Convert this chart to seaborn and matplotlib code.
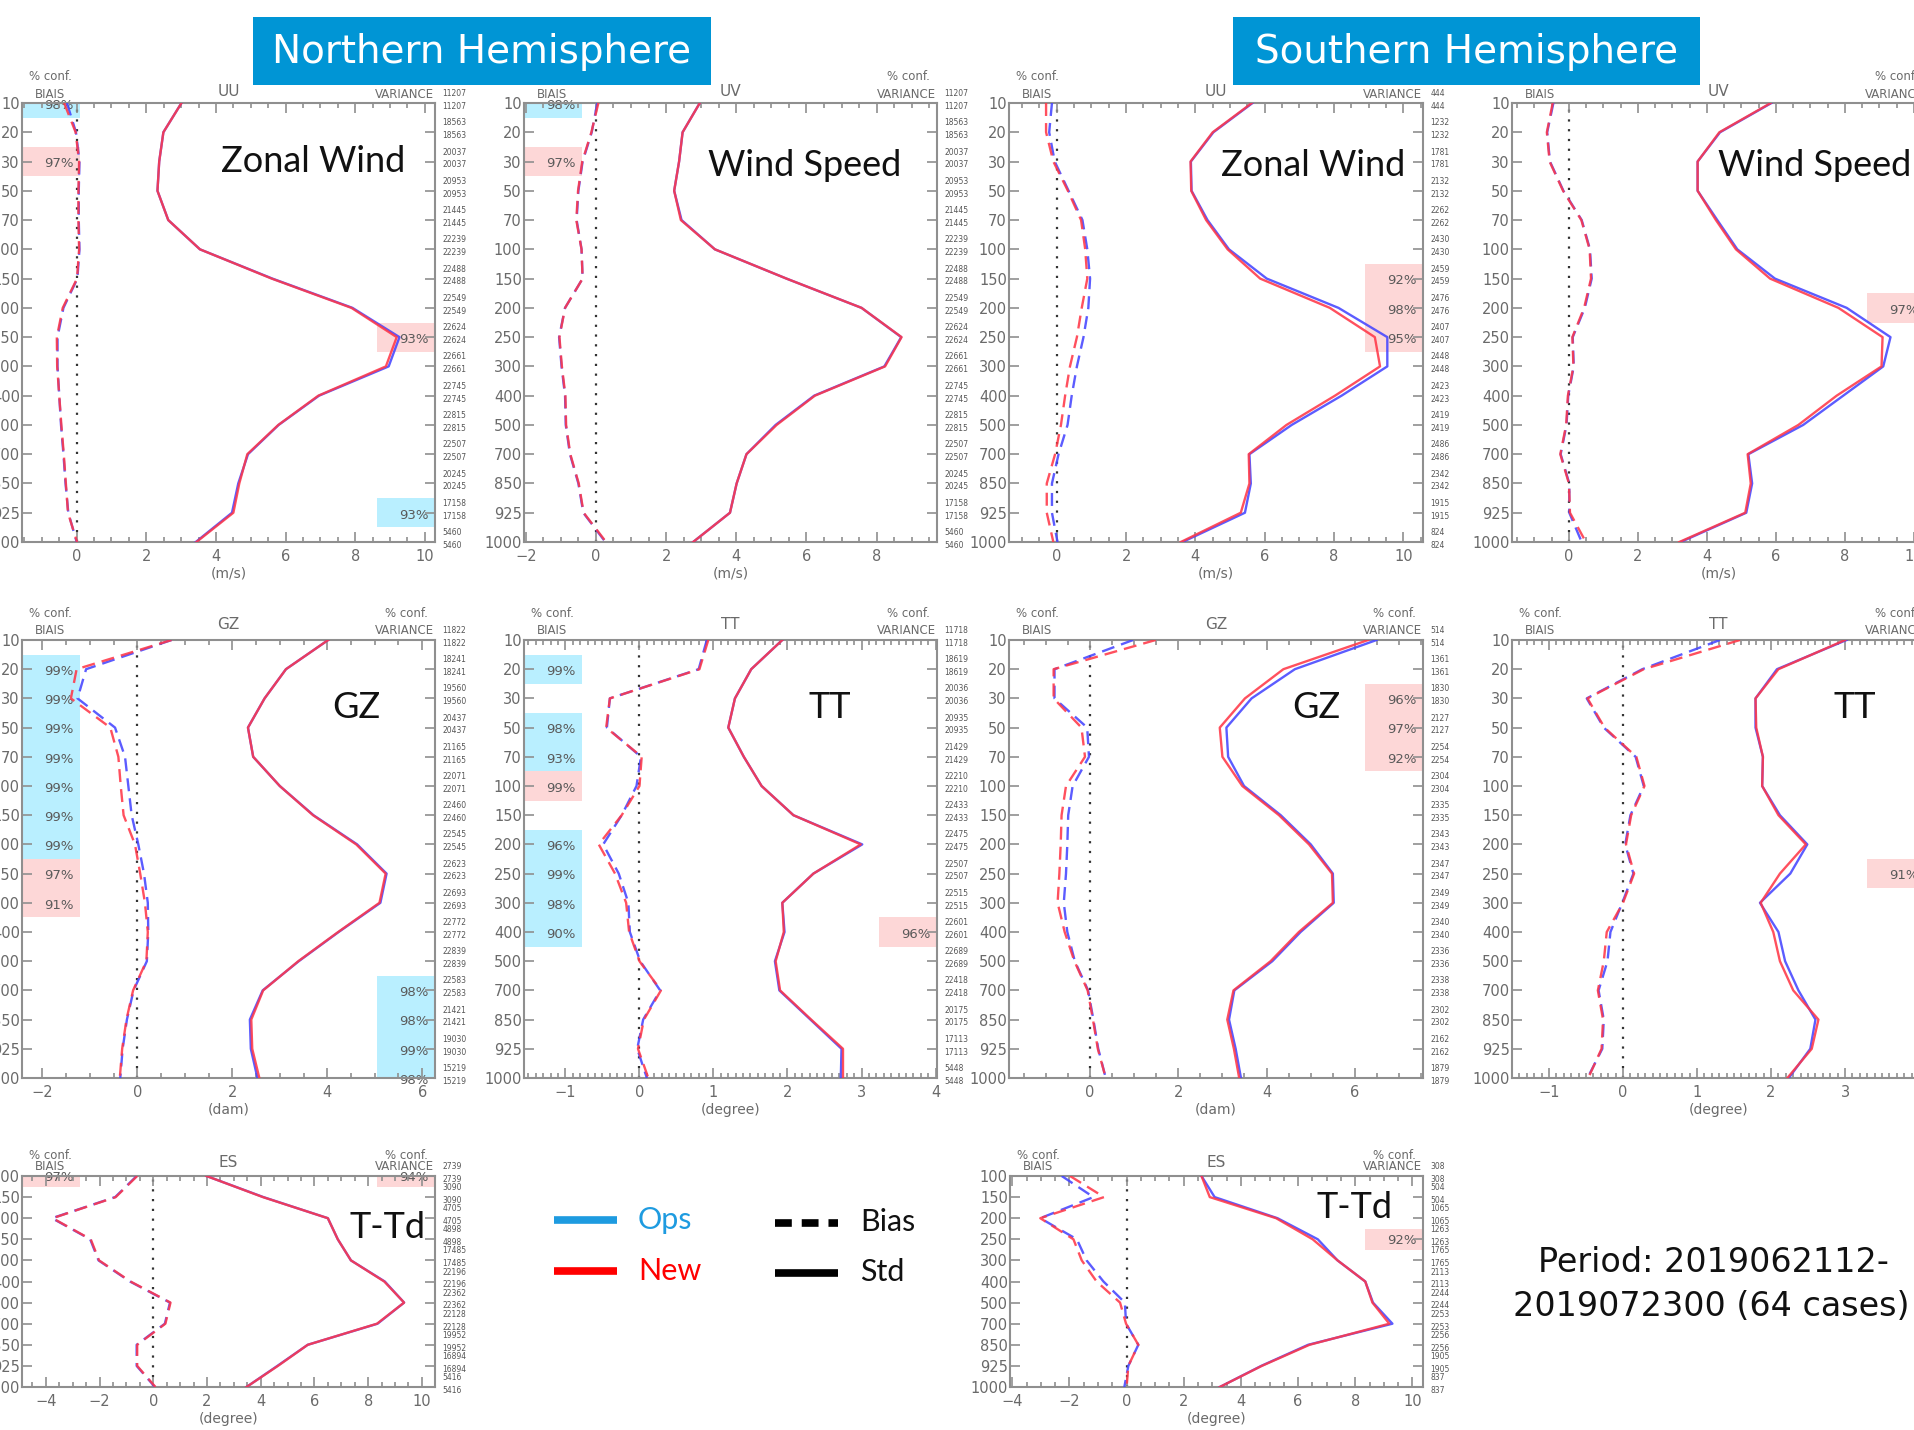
import numpy as np
import pandas as pd
import matplotlib
matplotlib.use("Agg")
import matplotlib.pyplot as plt
import seaborn as sns
from matplotlib.patches import Rectangle
from matplotlib.lines import Line2D
from matplotlib.ticker import MultipleLocator

W, H = 1915, 1430

# ---------------- data ----------------
LEVELS = ['10', '20', '30', '50', '70', '100', '150', '200', '250', '300',
          '400', '500', '700', '850', '925', '1000']
LEVELS_ES = ['100', '150', '200', '250', '300', '400', '500', '700', '850', '925', '1000']

# NH UU
nh_uu_std_ops = [3.01, 2.49, 2.37, 2.32, 2.63, 3.54, 5.62, 7.92, 9.27, 8.96, 6.96, 5.80, 4.92, 4.64, 4.46, 3.42]
nh_uu_std_new = [3.01, 2.49, 2.37, 2.32, 2.63, 3.54, 5.60, 7.89, 9.19, 8.88, 6.94, 5.79, 4.90, 4.67, 4.50, 3.44]
nh_uu_bias_ops = [-0.28, -0.02, 0.08, 0.06, 0.06, 0.08, 0.02, -0.38, -0.55, -0.55, -0.50, -0.45, -0.38, -0.32, -0.24, 0.00]
nh_uu_bias_new = [-0.36, -0.03, 0.07, 0.05, 0.05, 0.07, 0.01, -0.40, -0.57, -0.56, -0.50, -0.44, -0.37, -0.31, -0.25, 0.01]
nh_uu_counts = [11207, 18563, 20037, 20953, 21445, 22239, 22488, 22549, 22624, 22661, 22745, 22815, 22507, 20245, 17158, 5460]

# NH UV
nh_uv_std_ops = [2.96, 2.47, 2.37, 2.23, 2.44, 3.39, 5.43, 7.57, 8.70, 8.22, 6.22, 5.12, 4.29, 4.01, 3.82, 2.77]
nh_uv_std_new = [2.96, 2.47, 2.37, 2.23, 2.42, 3.39, 5.43, 7.57, 8.71, 8.24, 6.24, 5.15, 4.29, 4.01, 3.82, 2.77]
nh_uv_bias_ops = [0.04, -0.12, -0.38, -0.50, -0.55, -0.41, -0.38, -0.88, -1.05, -0.98, -0.88, -0.86, -0.74, -0.50, -0.36, 0.27]
nh_uv_bias_new = [0.07, -0.13, -0.39, -0.51, -0.56, -0.41, -0.38, -0.88, -1.04, -0.97, -0.87, -0.85, -0.73, -0.49, -0.35, 0.29]
nh_uv_counts = [11207, 18563, 20037, 20953, 21445, 22239, 22488, 22549, 22624, 22661, 22745, 22815, 22507, 20245, 17158, 5460]

# SH UU
sh_uu_std_ops = [5.65, 4.52, 3.87, 3.89, 4.35, 4.97, 6.06, 8.13, 9.54, 9.54, 8.22, 6.78, 5.56, 5.60, 5.43, 3.63]
sh_uu_std_new = [5.63, 4.50, 3.86, 3.88, 4.31, 4.93, 5.87, 7.88, 9.18, 9.33, 8.03, 6.63, 5.54, 5.56, 5.31, 3.58]
sh_uu_bias_ops = [-0.14, -0.22, -0.06, 0.34, 0.74, 0.88, 0.96, 0.91, 0.77, 0.58, 0.43, 0.31, 0.05, -0.14, -0.14, 0.02]
sh_uu_bias_new = [-0.31, -0.31, -0.10, 0.32, 0.70, 0.82, 0.88, 0.72, 0.58, 0.38, 0.24, 0.12, -0.05, -0.29, -0.29, -0.10]
sh_uu_counts = [444, 1232, 1781, 2132, 2262, 2430, 2459, 2476, 2407, 2448, 2423, 2419, 2486, 2342, 1915, 824]

# SH UV
sh_uv_std_ops = [5.87, 4.38, 3.73, 3.73, 4.30, 4.88, 5.97, 8.05, 9.32, 9.11, 7.95, 6.79, 5.20, 5.31, 5.14, 3.24]
sh_uv_std_new = [5.85, 4.36, 3.73, 3.73, 4.26, 4.84, 5.83, 7.81, 9.09, 9.06, 7.76, 6.65, 5.18, 5.27, 5.11, 3.20]
sh_uv_bias_ops = [-0.45, -0.63, -0.55, -0.16, 0.37, 0.61, 0.66, 0.46, 0.11, 0.14, -0.02, -0.07, -0.24, 0.01, 0.01, 0.37]
sh_uv_bias_new = [-0.47, -0.64, -0.56, -0.17, 0.36, 0.60, 0.64, 0.44, 0.10, 0.13, -0.03, -0.08, -0.25, 0.00, 0.03, 0.49]
sh_uv_counts = [444, 1232, 1781, 2132, 2262, 2430, 2459, 2476, 2407, 2448, 2423, 2419, 2486, 2342, 1915, 824]

# NH GZ
nh_gz_std_ops = [4.02, 3.13, 2.68, 2.33, 2.44, 3.00, 3.71, 4.63, 5.25, 5.12, 4.24, 3.40, 2.64, 2.37, 2.39, 2.53]
nh_gz_std_new = [4.02, 3.13, 2.68, 2.33, 2.44, 3.00, 3.70, 4.61, 5.23, 5.10, 4.23, 3.39, 2.65, 2.40, 2.42, 2.57]
nh_gz_bias_ops = [0.72, -1.08, -1.26, -0.47, -0.26, -0.19, -0.12, 0.02, 0.14, 0.22, 0.23, 0.20, -0.08, -0.22, -0.31, -0.36]
nh_gz_bias_new = [0.72, -1.28, -1.40, -0.57, -0.40, -0.35, -0.29, -0.05, 0.06, 0.16, 0.22, 0.19, -0.09, -0.23, -0.32, -0.37]
nh_gz_counts = [11822, 18241, 19560, 20437, 21165, 22071, 22460, 22545, 22623, 22693, 22772, 22839, 22583, 21421, 19030, 15219]

# NH TT
nh_tt_std_ops = [1.93, 1.51, 1.29, 1.20, 1.41, 1.65, 2.08, 3.01, 2.35, 1.93, 1.96, 1.83, 1.89, 2.31, 2.73, 2.72]
nh_tt_std_new = [1.93, 1.51, 1.29, 1.20, 1.41, 1.65, 2.08, 2.99, 2.35, 1.93, 1.95, 1.84, 1.90, 2.32, 2.75, 2.75]
nh_tt_bias_ops = [0.91, 0.80, -0.40, -0.44, 0.02, -0.04, -0.24, -0.49, -0.28, -0.15, -0.13, 0.01, 0.28, 0.05, -0.03, 0.10]
nh_tt_bias_new = [0.93, 0.81, -0.40, -0.45, 0.03, 0.00, -0.24, -0.55, -0.33, -0.18, -0.14, 0.00, 0.29, 0.06, -0.02, 0.12]
nh_tt_counts = [11718, 18619, 20036, 20935, 21429, 22210, 22433, 22475, 22507, 22515, 22601, 22689, 22418, 20175, 17113, 5448]

# SH GZ
sh_gz_std_ops = [6.49, 4.64, 3.66, 3.09, 3.13, 3.49, 4.32, 5.00, 5.50, 5.52, 4.77, 4.13, 3.27, 3.15, 3.30, 3.42]
sh_gz_std_new = [6.30, 4.38, 3.51, 2.94, 3.00, 3.45, 4.28, 4.96, 5.48, 5.50, 4.73, 4.09, 3.25, 3.11, 3.26, 3.38]
sh_gz_bias_ops = [0.98, -0.80, -0.80, -0.06, -0.02, -0.39, -0.49, -0.51, -0.54, -0.59, -0.51, -0.34, -0.04, 0.08, 0.19, 0.36]
sh_gz_bias_new = [1.49, -0.82, -0.82, -0.19, -0.11, -0.54, -0.64, -0.66, -0.69, -0.73, -0.57, -0.35, -0.05, 0.07, 0.18, 0.36]
sh_gz_counts = [514, 1361, 1830, 2127, 2254, 2304, 2335, 2343, 2347, 2349, 2340, 2336, 2338, 2302, 2162, 1879]

# SH TT
sh_tt_std_ops = [3.02, 2.08, 1.79, 1.79, 1.89, 1.88, 2.12, 2.49, 2.26, 1.85, 2.10, 2.19, 2.37, 2.60, 2.53, 2.24]
sh_tt_std_new = [3.00, 2.10, 1.79, 1.80, 1.89, 1.88, 2.10, 2.47, 2.12, 1.86, 2.03, 2.12, 2.30, 2.64, 2.55, 2.22]
sh_tt_bias_ops = [1.31, 0.26, -0.49, -0.26, 0.17, 0.28, 0.10, 0.03, 0.14, -0.01, -0.17, -0.21, -0.33, -0.26, -0.28, -0.48]
sh_tt_bias_new = [1.58, 0.28, -0.48, -0.25, 0.18, 0.29, 0.11, 0.04, 0.15, 0.00, -0.22, -0.26, -0.34, -0.27, -0.29, -0.47]
sh_tt_counts = [514, 1361, 1830, 2127, 2254, 2304, 2335, 2343, 2347, 2349, 2340, 2336, 2338, 2302, 2162, 1879]

# NH ES
nh_es_std_ops = [1.98, 4.10, 6.50, 6.87, 7.36, 8.62, 9.34, 8.35, 5.75, 4.62, 3.47]
nh_es_std_new = [1.98, 4.08, 6.50, 6.87, 7.36, 8.60, 9.34, 8.33, 5.75, 4.64, 3.47]
nh_es_bias_ops = [-0.62, -1.42, -3.77, -2.35, -2.04, -0.87, 0.62, 0.43, -0.62, -0.62, 0.06]
nh_es_bias_new = [-0.60, -1.40, -3.75, -2.33, -2.02, -0.85, 0.64, 0.45, -0.60, -0.60, 0.08]
nh_es_counts = [2739, 3090, 4705, 4898, 17485, 22196, 22362, 22128, 19952, 16894, 5416]

# SH ES
sh_es_std_ops = [2.62, 3.08, 5.28, 6.69, 7.38, 8.35, 8.62, 9.30, 6.35, 4.71, 3.26]
sh_es_std_new = [2.62, 2.91, 5.23, 6.51, 7.38, 8.35, 8.60, 9.19, 6.40, 4.73, 3.26]
sh_es_bias_ops = [-2.27, -1.16, -3.02, -1.74, -1.40, -0.81, -0.06, -0.02, 0.41, 0.06, -0.08]
sh_es_bias_new = [-1.98, -0.79, -3.02, -1.86, -1.57, -1.05, -0.23, -0.02, 0.41, 0.06, 0.00]
sh_es_counts = [308, 504, 1065, 1263, 1765, 2113, 2244, 2253, 2256, 1905, 837]

# significance (level, % confidence, who: 'c' = cyan, 'p' = pink)
nh_uu_sig_left = [('10', 98, 'c'), ('30', 97, 'p')]
nh_uu_sig_right = [('250', 93, 'p'), ('925', 93, 'c')]
nh_uv_sig_left = [('10', 98, 'c'), ('30', 97, 'p')]
nh_uv_sig_right = []
sh_uu_sig_left = []
sh_uu_sig_right = [('150', 92, 'p'), ('200', 98, 'p'), ('250', 95, 'p')]
sh_uv_sig_left = []
sh_uv_sig_right = [('200', 97, 'p')]
nh_gz_sig_left = [('20', 99, 'c'), ('30', 99, 'c'), ('50', 99, 'c'), ('70', 99, 'c'), ('100', 99, 'c'),
                  ('150', 99, 'c'), ('200', 99, 'c'), ('250', 97, 'p'), ('300', 91, 'p')]
nh_gz_sig_right = [('700', 98, 'c'), ('850', 98, 'c'), ('925', 99, 'c'), ('1000', 98, 'c')]
nh_tt_sig_left = [('20', 99, 'c'), ('50', 98, 'c'), ('70', 93, 'c'), ('100', 99, 'p'), ('200', 96, 'c'),
                  ('250', 99, 'c'), ('300', 98, 'c'), ('400', 90, 'c')]
nh_tt_sig_right = [('400', 96, 'p')]
sh_gz_sig_left = []
sh_gz_sig_right = [('30', 96, 'p'), ('50', 97, 'p'), ('70', 92, 'p')]
sh_tt_sig_left = []
sh_tt_sig_right = [('250', 91, 'p')]
nh_es_sig_left = [('100', 97, 'p')]
nh_es_sig_right = [('100', 94, 'p')]
sh_es_sig_left = []
sh_es_sig_right = [('250', 92, 'p')]

# ---------------- layout / style ----------------
C_OPS = '#4545ff'
C_NEW = '#ff3848'
SIG_COL = {'c': '#b9efff', 'p': '#fdd7d7'}
GRAY = '#6a6a6a'
SPINE = '#8f8f8f'

PANELS = [
    dict(lev=LEVELS, so=nh_uu_std_ops, sn=nh_uu_std_new, bo=nh_uu_bias_ops, bn=nh_uu_bias_new,
         cnt=nh_uu_counts, sl=nh_uu_sig_left, sr=nh_uu_sig_right, var='UU', name='Zonal Wind',
         unit='(m/s)', rect=(22, 103, 435, 542), xlim=(-1.57, 10.29), maj=2, mnr=0.5,
         confL=True, confR=False, row=1, name_xy=(313, 162)),
    dict(lev=LEVELS, so=nh_uv_std_ops, sn=nh_uv_std_new, bo=nh_uv_bias_ops, bn=nh_uv_bias_new,
         cnt=nh_uv_counts, sl=nh_uv_sig_left, sr=nh_uv_sig_right, var='UV', name='Wind Speed',
         unit='(m/s)', rect=(524, 103, 937, 542), xlim=(-2.05, 9.72), maj=2, mnr=0.5,
         confL=False, confR=True, row=1, name_xy=(805, 166)),
    dict(lev=LEVELS, so=sh_uu_std_ops, sn=sh_uu_std_new, bo=sh_uu_bias_ops, bn=sh_uu_bias_new,
         cnt=sh_uu_counts, sl=sh_uu_sig_left, sr=sh_uu_sig_right, var='UU', name='Zonal Wind',
         unit='(m/s)', rect=(1009, 103, 1423, 542), xlim=(-1.38, 10.57), maj=2, mnr=0.5,
         confL=True, confR=False, row=1, name_xy=(1313, 165)),
    dict(lev=LEVELS, so=sh_uv_std_ops, sn=sh_uv_std_new, bo=sh_uv_bias_ops, bn=sh_uv_bias_new,
         cnt=sh_uv_counts, sl=sh_uv_sig_left, sr=sh_uv_sig_right, var='UV', name='Wind Speed',
         unit='(m/s)', rect=(1512, 103, 1925, 542), xlim=(-1.65, 10.32), maj=2, mnr=0.5,
         confL=False, confR=True, row=1, name_xy=(1815, 165)),
    dict(lev=LEVELS, so=nh_gz_std_ops, sn=nh_gz_std_new, bo=nh_gz_bias_ops, bn=nh_gz_bias_new,
         cnt=nh_gz_counts, sl=nh_gz_sig_left, sr=nh_gz_sig_right, var='GZ', name='GZ',
         unit='(dam)', rect=(22, 640, 435, 1078), xlim=(-2.43, 6.27), maj=2, mnr=0.5,
         confL=True, confR=True, row=2, name_xy=(356, 707)),
    dict(lev=LEVELS, so=nh_tt_std_ops, sn=nh_tt_std_new, bo=nh_tt_bias_ops, bn=nh_tt_bias_new,
         cnt=nh_tt_counts, sl=nh_tt_sig_left, sr=nh_tt_sig_right, var='TT', name='TT',
         unit='(degree)', rect=(524, 640, 937, 1078), xlim=(-1.56, 4.02), maj=1, mnr=0.1,
         confL=True, confR=True, row=2, name_xy=(830, 707)),
    dict(lev=LEVELS, so=sh_gz_std_ops, sn=sh_gz_std_new, bo=sh_gz_bias_ops, bn=sh_gz_bias_new,
         cnt=sh_gz_counts, sl=sh_gz_sig_left, sr=sh_gz_sig_right, var='GZ', name='GZ',
         unit='(dam)', rect=(1009, 640, 1423, 1078), xlim=(-1.83, 7.54), maj=2, mnr=0.5,
         confL=True, confR=True, row=2, name_xy=(1316, 707)),
    dict(lev=LEVELS, so=sh_tt_std_ops, sn=sh_tt_std_new, bo=sh_tt_bias_ops, bn=sh_tt_bias_new,
         cnt=sh_tt_counts, sl=sh_tt_sig_left, sr=sh_tt_sig_right, var='TT', name='TT',
         unit='(degree)', rect=(1512, 640, 1925, 1078), xlim=(-1.50, 4.08), maj=1, mnr=0.1,
         confL=True, confR=True, row=2, name_xy=(1855, 707)),
    dict(lev=LEVELS_ES, so=nh_es_std_ops, sn=nh_es_std_new, bo=nh_es_bias_ops, bn=nh_es_bias_new,
         cnt=nh_es_counts, sl=nh_es_sig_left, sr=nh_es_sig_right, var='ES', name='T-Td',
         unit='(degree)', rect=(22, 1176, 435, 1387), xlim=(-4.89, 10.49), maj=2, mnr=0.5,
         confL=True, confR=True, row=3, name_xy=(388, 1228)),
    dict(lev=LEVELS_ES, so=sh_es_std_ops, sn=sh_es_std_new, bo=sh_es_bias_ops, bn=sh_es_bias_new,
         cnt=sh_es_counts, sl=sh_es_sig_left, sr=sh_es_sig_right, var='ES', name='T-Td',
         unit='(degree)', rect=(1010, 1176, 1423, 1387), xlim=(-4.08, 10.37), maj=2, mnr=0.5,
         confL=True, confR=True, row=3, name_xy=(1355, 1208)),
]

# offsets (points) of header labels above the axes for each row
HDR = {1: dict(var=8, biais=6, conf=19), 2: dict(var=11, biais=6.5, conf=19), 3: dict(var=10, biais=6.5, conf=15)}

fig = plt.figure(figsize=(W / 100, H / 100), dpi=100)
fig.patch.set_facecolor('white')


def fx(x):
    return x / W


def fy(y):
    return 1 - y / H


for p in PANELS:
    l, t, r, b = p['rect']
    ax = fig.add_axes([fx(l), fy(b), (r - l) / W, (b - t) / H])
    lev = p['lev']
    n = len(lev)
    idx = np.arange(n)
    pos = {s: i for i, s in enumerate(lev)}

    # significance boxes
    for side, lst in (('L', p['sl']), ('R', p['sr'])):
        for lv, pct, who in lst:
            i = pos[lv]
            x0 = 0.0 if side == 'L' else 0.86
            ax.add_patch(Rectangle((x0, i - 0.5), 0.14, 1.0, transform=ax.get_yaxis_transform(),
                                   facecolor=SIG_COL[who], edgecolor='none', zorder=0))
            xt = 0.125 if side == 'L' else 0.985
            ax.text(xt, i + 0.08, f'{pct}%', transform=ax.get_yaxis_transform(), ha='right',
                    va='center', fontsize=9.5, color='#5a5a5a', zorder=1)

    df = pd.concat([
        pd.DataFrame({'x': p['bo'], 'y': idx, 'run': 'Ops', 'stat': 'Bias'}),
        pd.DataFrame({'x': p['bn'], 'y': idx, 'run': 'New', 'stat': 'Bias'}),
        pd.DataFrame({'x': p['so'], 'y': idx, 'run': 'Ops', 'stat': 'Std'}),
        pd.DataFrame({'x': p['sn'], 'y': idx, 'run': 'New', 'stat': 'Std'}),
    ], ignore_index=True)

    ax.axvline(0, color='#333333', lw=1.6, ls=(0, (1, 3.4)), zorder=1)
    sns.lineplot(data=df, x='x', y='y', hue='run', style='stat', hue_order=['Ops', 'New'],
                 style_order=['Bias', 'Std'], palette={'Ops': C_OPS, 'New': C_NEW},
                 dashes={'Bias': (5.5, 3), 'Std': ''}, sort=False, estimator=None,
                 legend=False, ax=ax, lw=1.7, alpha=0.88, zorder=3)

    ax.set_xlim(*p['xlim'])
    ax.set_ylim(n - 1, 0)
    ax.set_yticks(idx)
    ax.set_yticklabels(lev)
    ax.xaxis.set_major_locator(MultipleLocator(p['maj']))
    ax.xaxis.set_minor_locator(MultipleLocator(p['mnr']))
    ax.tick_params(axis='both', which='both', direction='in', top=True, right=True,
                   color=SPINE, labelcolor=GRAY, labelsize=10.5, width=1.2)
    ax.tick_params(axis='x', which='major', length=7, pad=5)
    ax.tick_params(axis='x', which='minor', length=3.5)
    ax.tick_params(axis='y', which='major', length=7, pad=1.5)
    for s in ax.spines.values():
        s.set_color(SPINE)
        s.set_linewidth(1.5)
    ax.set_ylabel('')
    ax.set_xlabel(p['unit'], fontsize=10, color=GRAY, labelpad=2)
    ax.set_facecolor('white')

    # counts on the right
    for i, c in enumerate(p['cnt']):
        for dy in (6.8, -2.4):
            ax.annotate(str(c), xy=(1.0, i), xycoords=ax.get_yaxis_transform(),
                        xytext=(5.5, dy), textcoords='offset points', fontsize=5.5,
                        color='#555555', ha='left', va='center', annotation_clip=False)

    # header labels
    hd = HDR[p['row']]
    ax.annotate(p['var'], xy=(0.5, 1), xycoords='axes fraction', xytext=(0, hd['var']),
                textcoords='offset points', ha='center', va='center', fontsize=11, color=GRAY)
    ax.annotate('BIAIS', xy=(0.068, 1), xycoords='axes fraction', xytext=(0, hd['biais']),
                textcoords='offset points', ha='center', va='center', fontsize=8.5, color=GRAY)
    ax.annotate('VARIANCE', xy=(0.997, 1), xycoords='axes fraction', xytext=(0, hd['biais']),
                textcoords='offset points', ha='right', va='center', fontsize=8.5, color=GRAY)
    if p['confL']:
        ax.annotate('% conf.', xy=(0.068, 1), xycoords='axes fraction', xytext=(0, hd['conf']),
                    textcoords='offset points', ha='center', va='center', fontsize=8.5, color=GRAY)
    if p['confR']:
        ax.annotate('% conf.', xy=(0.93, 1), xycoords='axes fraction', xytext=(0, hd['conf']),
                    textcoords='offset points', ha='center', va='center', fontsize=8.5, color=GRAY)

    nx, ny = p['name_xy']
    fig.text(fx(nx), fy(ny), p['name'], ha='center', va='center', fontsize=26,
             family=['Lato', 'DejaVu Sans'], color='#111111', zorder=10)

# hemisphere headers
for (x0, x1, txt) in ((253, 711, 'Northern Hemisphere'), (1233, 1700, 'Southern Hemisphere')):
    fig.add_artist(Rectangle((fx(x0), fy(85)), (x1 - x0) / W, 68 / H, transform=fig.transFigure,
                             facecolor='#0095d5', edgecolor='none'))
    fig.text(fx((x0 + x1) / 2), fy(52), txt, ha='center', va='center', fontsize=28,
             color='white', family='DejaVu Sans')

# legend
fig.add_artist(Line2D([fx(554), fx(617)], [fy(1220), fy(1220)], transform=fig.transFigure,
                      color='#1e9be0', lw=5.5, solid_capstyle='butt'))
fig.add_artist(Line2D([fx(554), fx(617)], [fy(1271), fy(1271)], transform=fig.transFigure,
                      color='#ff0000', lw=5.5, solid_capstyle='butt'))
fig.add_artist(Line2D([fx(775), fx(838)], [fy(1223), fy(1223)], transform=fig.transFigure,
                      color='black', lw=5.5, ls=(0, (2.2, 1.3)), dash_capstyle='butt'))
fig.add_artist(Line2D([fx(775), fx(838)], [fy(1273), fy(1273)], transform=fig.transFigure,
                      color='black', lw=5.5, solid_capstyle='butt'))
fig.text(fx(638), fy(1220), 'Ops', ha='left', va='center', fontsize=22, color='#1e9be0',
         family=['Lato', 'DejaVu Sans'])
fig.text(fx(638), fy(1271), 'New', ha='left', va='center', fontsize=22, color='#ff0000',
         family=['Lato', 'DejaVu Sans'])
fig.text(fx(860), fy(1222), 'Bias', ha='left', va='center', fontsize=22, color='#111111',
         family=['Lato', 'DejaVu Sans'])
fig.text(fx(860), fy(1272), 'Std', ha='left', va='center', fontsize=22, color='#111111',
         family=['Lato', 'DejaVu Sans'])

# period
fig.text(fx(1713), fy(1263), 'Period: 2019062112-', ha='center', va='center', fontsize=24,
         color='#111111', family='DejaVu Sans')
fig.text(fx(1711), fy(1307), '2019072300 (64 cases)', ha='center', va='center', fontsize=24,
         color='#111111', family='DejaVu Sans')

fig.savefig('out.png', dpi=100, facecolor='white')
